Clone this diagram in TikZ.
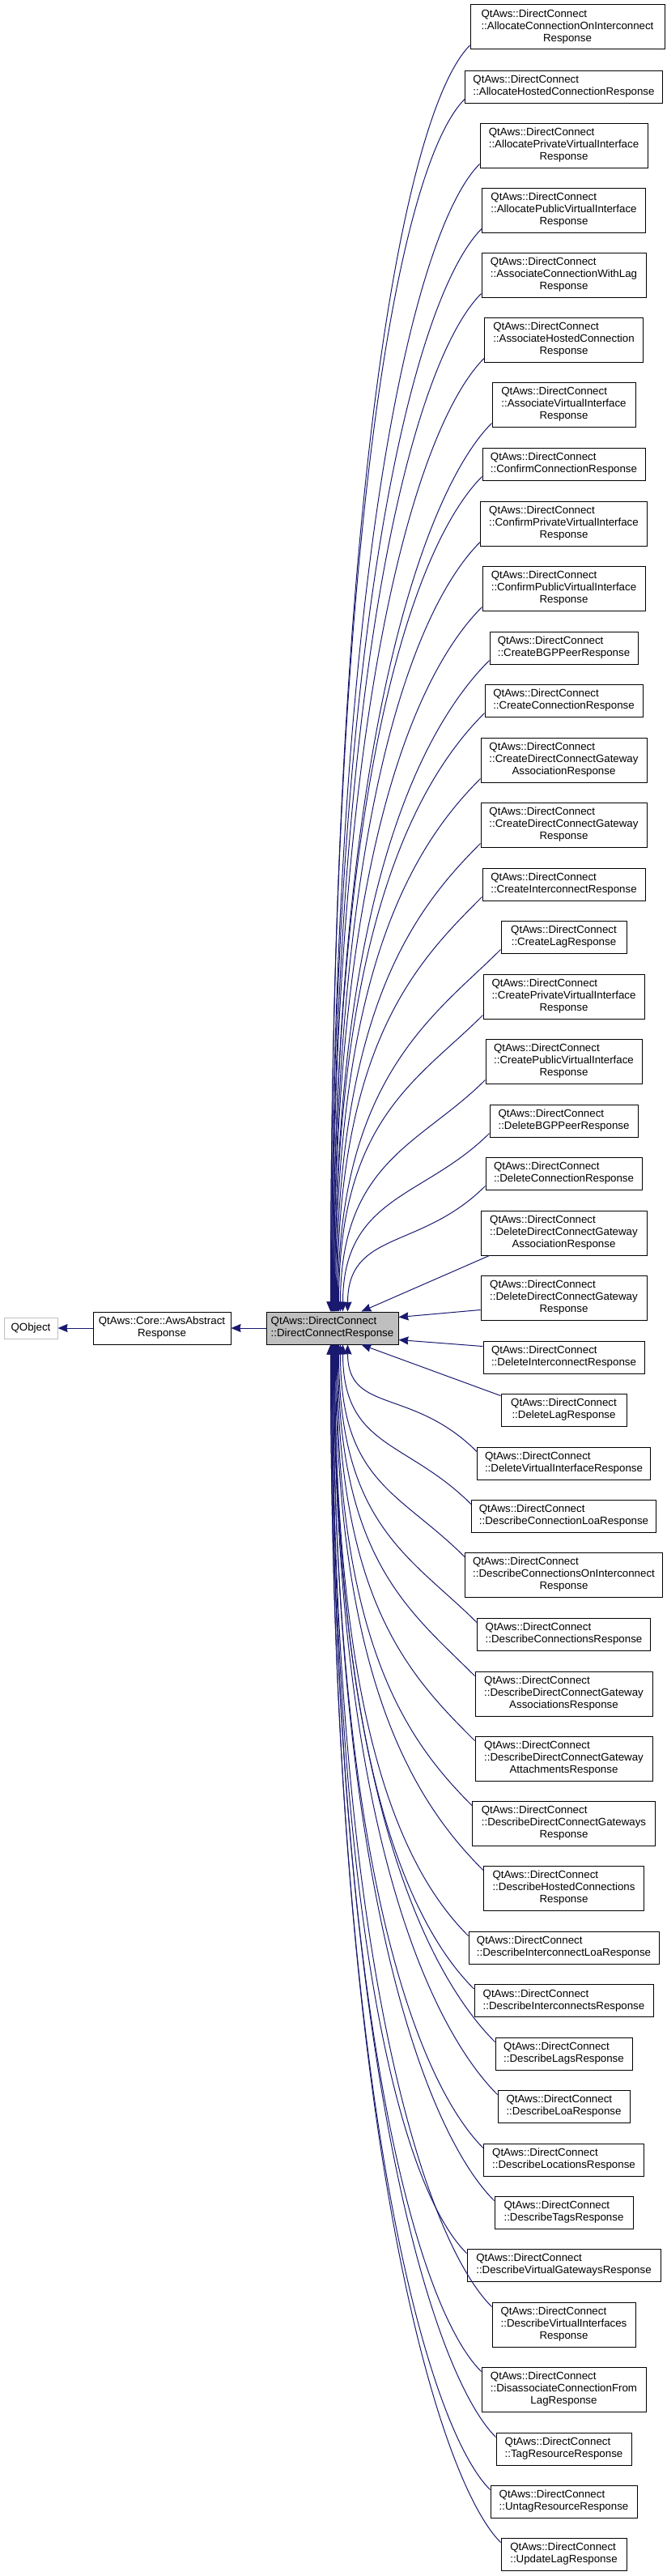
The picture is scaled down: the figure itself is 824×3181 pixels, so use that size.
\documentclass[tikz,border=0pt]{standalone}
\usepackage{fontspec}
\setmainfont{Liberation Sans}
\usetikzlibrary{arrows.meta,calc}
\definecolor{edgeblue}{RGB}{25,25,112}
\definecolor{boxgray}{RGB}{191,191,191}
\tikzset{
  respbox/.style = {draw=black,line width=1pt,fill=white,inner xsep=2pt,inner ysep=5pt,
                    font=\fontsize{13.3}{15}\selectfont},
  basebox/.style = {respbox,fill=boxgray},
  extbox/.style  = {respbox,draw=boxgray},
  inharr/.style  = {-{Stealth[length=12pt,width=10pt,inset=1pt]},edgeblue,line width=1pt}
}
\newcommand{\twoline}[2]{\begin{tabular}{@{}l@{}}#1\\\multicolumn{1}{@{}c@{}}{#2}\end{tabular}}
\newcommand{\threeline}[3]{\begin{tabular}{@{}l@{}}#1\\#2\\\multicolumn{1}{@{}c@{}}{#3}\end{tabular}}
\newcommand{\respii}[4]{%
  \node[respbox,minimum width=#3pt] (#1) at (696.5,#2) {\twoline{QtAws::DirectConnect}{#4}};}
\newcommand{\respiii}[5]{%
  \node[respbox,minimum width=#3pt] (#1) at (696.5,#2) {\threeline{QtAws::DirectConnect}{#4}{#5}};}
% child above the base class: leaves near the lower left corner
\newcommand{\inhup}[2]{%
  \path ($(#1.south west)+(0,-5)$) coordinate (s) ($(dcr.north west)+(#2,0)$) coordinate (e);
  \draw[inharr] (s) .. controls +(-80,80) and ($(e)!0.65!(e |- s)$) .. (e);}
% child below the base class: leaves near the upper left corner
\newcommand{\inhdown}[2]{%
  \path ($(#1.north west)+(0,6)$) coordinate (s) ($(dcr.south west)+(#2,0)$) coordinate (e);
  \draw[inharr] (s) .. controls +(-80,-80) and ($(e)!0.65!(e |- s)$) .. (e);}

\begin{document}
\begin{tikzpicture}[x=1pt,y=-1pt]
  \path[fill=white,use as bounding box] (0,0) rectangle (824,3181);

  % base classes
  \node[extbox,minimum width=66pt,minimum height=26pt] (qobj) at (38,1640) {QObject};
  \node[respbox,minimum width=170pt] (awsresp) at (200,1640) {\twoline{QtAws::Core::AwsAbstract}{Response}};
  \node[basebox,minimum width=163pt] (dcr) at (410.5,1640) {\twoline{QtAws::DirectConnect}{::DirectConnectResponse}};
  \draw[inharr] (awsresp) -- (qobj);
  \draw[inharr] (dcr) -- (awsresp);

  % derived responses
  \node[respbox,minimum width=240pt] (allocConnIc) at (701,33)
    {\threeline{QtAws::DirectConnect}{::AllocateConnectionOnInterconnect}{Response}};
  \respii{allocHosted}{107}{244}{::AllocateHostedConnectionResponse}
  \respiii{allocPrivVif}{179.5}{207}{::AllocatePrivateVirtualInterface}{Response}
  \respiii{allocPubVif}{259.5}{202}{::AllocatePublicVirtualInterface}{Response}
  \respiii{assocConnLag}{339.5}{203}{::AssociateConnectionWithLag}{Response}
  \respiii{assocHosted}{419.5}{196}{::AssociateHostedConnection}{Response}
  \respiii{assocVif}{499.5}{177}{::AssociateVirtualInterface}{Response}
  \respii{confirmConn}{573}{201}{::ConfirmConnectionResponse}
  \respiii{confirmPrivVif}{646.5}{206}{::ConfirmPrivateVirtualInterface}{Response}
  \respiii{confirmPubVif}{726.5}{201}{::ConfirmPublicVirtualInterface}{Response}
  \respii{createBgp}{800}{183}{::CreateBGPPeerResponse}
  \respii{createConn}{865}{195}{::CreateConnectionResponse}
  \respiii{createGwAssoc}{938.5}{205}{::CreateDirectConnectGateway}{AssociationResponse}
  \respiii{createGw}{1018.5}{205}{::CreateDirectConnectGateway}{Response}
  \respii{createIc}{1092}{201}{::CreateInterconnectResponse}
  \respii{createLag}{1157}{155}{::CreateLagResponse}
  \respiii{createPrivVif}{1230.5}{199}{::CreatePrivateVirtualInterface}{Response}
  \respiii{createPubVif}{1310.5}{193}{::CreatePublicVirtualInterface}{Response}
  \respii{deleteBgp}{1384}{183}{::DeleteBGPPeerResponse}
  \respii{deleteConn}{1449}{193}{::DeleteConnectionResponse}
  \respiii{deleteGwAssoc}{1522.5}{205}{::DeleteDirectConnectGateway}{AssociationResponse}
  \respiii{deleteGw}{1602.5}{205}{::DeleteDirectConnectGateway}{Response}
  \respii{deleteIc}{1676}{199}{::DeleteInterconnectResponse}
  \respii{deleteLag}{1741}{155}{::DeleteLagResponse}
  \respii{deleteVif}{1807}{214}{::DeleteVirtualInterfaceResponse}
  \respii{descConnLoa}{1872}{228}{::DescribeConnectionLoaResponse}
  \respiii{descConnIc}{1944.5}{244}{::DescribeConnectionsOnInterconnect}{Response}
  \respii{descConns}{2018}{214}{::DescribeConnectionsResponse}
  \respiii{descGwAssocs}{2091.5}{219}{::DescribeDirectConnectGateway}{AssociationsResponse}
  \respiii{descGwAttach}{2171.5}{219}{::DescribeDirectConnectGateway}{AttachmentsResponse}
  \respiii{descGws}{2251.5}{226}{::DescribeDirectConnectGateways}{Response}
  \respiii{descHosted}{2331.5}{198}{::DescribeHostedConnections}{Response}
  \respii{descIcLoa}{2405}{235}{::DescribeInterconnectLoaResponse}
  \respii{descIcs}{2470.5}{221}{::DescribeInterconnectsResponse}
  \respii{descLags}{2536}{169}{::DescribeLagsResponse}
  \respii{descLoa}{2601}{163}{::DescribeLoaResponse}
  \respii{descLocs}{2667}{198}{::DescribeLocationsResponse}
  \respii{descTags}{2732}{171}{::DescribeTagsResponse}
  \respii{descVgws}{2797}{239}{::DescribeVirtualGatewaysResponse}
  \respiii{descVifs}{2870.5}{177}{::DescribeVirtualInterfaces}{Response}
  \respiii{disassocConnLag}{2950.5}{203}{::DisassociateConnectionFrom}{LagResponse}
  \respii{tagRes}{3024}{167}{::TagResourceResponse}
  \respii{untagRes}{3089}{181}{::UntagResourceResponse}
  \respii{updateLag}{3154}{155}{::UpdateLagResponse}

  % inheritance arrows, upper fan
  \inhup{allocConnIc}{80}
  \inhup{allocHosted}{80}
  \inhup{allocPrivVif}{81}
  \inhup{allocPubVif}{81}
  \inhup{assocConnLag}{82}
  \inhup{assocHosted}{82}
  \inhup{assocVif}{83}
  \inhup{confirmConn}{83}
  \inhup{confirmPrivVif}{84}
  \inhup{confirmPubVif}{84}
  \inhup{createBgp}{85}
  \inhup{createConn}{85}
  \inhup{createGwAssoc}{86}
  \inhup{createGw}{87}
  \inhup{createIc}{88}
  \inhup{createLag}{89}
  \inhup{createPrivVif}{90}
  \inhup{createPubVif}{92}
  \inhup{deleteBgp}{95}
  \inhup{deleteConn}{101}

  % the four nearest ones run straight
  \draw[inharr] ($(deleteGwAssoc.south west)+(11,0)$) -- ($(dcr.north west)+(118,0)$);
  \draw[inharr] ($(deleteGw.south west)+(0,-13)$) -- ($(dcr.north east)+(0,7)$);
  \draw[inharr] ($(deleteIc.north west)+(0,7)$) -- ($(dcr.south east)+(0,-6)$);
  \draw[inharr] ($(deleteLag.north west)+(0,3)$) -- ($(dcr.south west)+(118,0)$);

  % lower fan
  \inhdown{deleteVif}{101}
  \inhdown{descConnLoa}{95}
  \inhdown{descConnIc}{92}
  \inhdown{descConns}{90}
  \inhdown{descGwAssocs}{89}
  \inhdown{descGwAttach}{88}
  \inhdown{descGws}{87}
  \inhdown{descHosted}{86}
  \inhdown{descIcLoa}{85}
  \inhdown{descIcs}{85}
  \inhdown{descLags}{84}
  \inhdown{descLoa}{84}
  \inhdown{descLocs}{83}
  \inhdown{descTags}{83}
  \inhdown{descVgws}{82}
  \inhdown{descVifs}{82}
  \inhdown{disassocConnLag}{81}
  \inhdown{tagRes}{81}
  \inhdown{untagRes}{80}
  \inhdown{updateLag}{80}
\end{tikzpicture}
\end{document}
